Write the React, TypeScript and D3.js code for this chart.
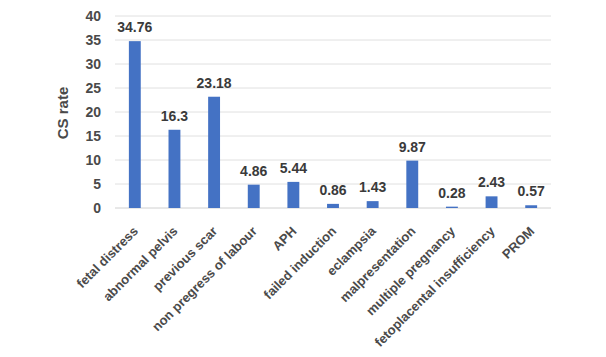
import React, { useEffect, useRef } from "react";
import * as d3 from "d3";

const categories = [
  "fetal distress",
  "abnormal pelvis",
  "previous scar",
  "non pregress of labour",
  "APH",
  "failed induction",
  "eclampsia",
  "malpresentation",
  "multiple pregnancy",
  "fetoplacental insufficiency",
  "PROM",
];
const csRates = [34.76, 16.3, 23.18, 4.86, 5.44, 0.86, 1.43, 9.87, 0.28, 2.43, 0.57];
const yTicks = [0, 5, 10, 15, 20, 25, 30, 35, 40];

const width = 606;
const height = 357;
const margin = { top: 16, right: 55, bottom: 149, left: 115 };

const App = () => {
  const ref = useRef<SVGSVGElement>(null);

  useEffect(() => {
    const svg = d3.select(ref.current);
    svg.selectAll("*").remove();
    const font = "'Liberation Sans', Arial, sans-serif";

    const x = d3
      .scaleBand()
      .domain(categories)
      .range([margin.left, width - margin.right])
      .paddingInner(0.7)
      .paddingOuter(0.35);
    const y = d3.scaleLinear().domain([0, 40]).range([height - margin.bottom, margin.top]);

    // gridlines
    svg
      .append("g")
      .selectAll("line")
      .data(yTicks)
      .enter()
      .append("line")
      .attr("x1", margin.left)
      .attr("x2", width - margin.right)
      .attr("y1", (d) => y(d))
      .attr("y2", (d) => y(d))
      .attr("stroke", (d) => (d === 0 ? "#d0d0d0" : "#e0e0e0"))
      .attr("stroke-width", 1);

    // y tick labels
    svg
      .append("g")
      .selectAll("text")
      .data(yTicks)
      .enter()
      .append("text")
      .attr("x", margin.left - 14)
      .attr("y", (d) => y(d))
      .attr("dy", "0.35em")
      .attr("text-anchor", "end")
      .style("font-family", font)
      .style("font-weight", "bold")
      .style("font-size", "14px")
      .attr("fill", "#4a4a4a")
      .text((d) => d);

    // y axis title
    svg
      .append("text")
      .attr("transform", `translate(68, ${(y(0) + y(40)) / 2 + 1}) rotate(-90)`)
      .attr("text-anchor", "middle")
      .style("font-family", font)
      .style("font-weight", "bold")
      .style("font-size", "15px")
      .attr("fill", "#4a4a4a")
      .text("CS rate");

    // bars
    svg
      .append("g")
      .selectAll("rect")
      .data(csRates)
      .enter()
      .append("rect")
      .attr("x", (d, i) => x(categories[i])!)
      .attr("y", (d) => y(d))
      .attr("width", x.bandwidth())
      .attr("height", (d) => y(0) - y(d))
      .attr("fill", "#4472C4");

    // value labels
    svg
      .append("g")
      .selectAll("text")
      .data(csRates)
      .enter()
      .append("text")
      .attr("x", (d, i) => x(categories[i])! + x.bandwidth() / 2)
      .attr("y", (d) => y(d) - 9)
      .attr("text-anchor", "middle")
      .style("font-family", font)
      .style("font-weight", "bold")
      .style("font-size", "14px")
      .attr("fill", "#3a3a3a")
      .text((d) => d);

    // category labels
    svg
      .append("g")
      .selectAll("text")
      .data(categories)
      .enter()
      .append("text")
      .attr(
        "transform",
        (d) => `translate(${x(d)! + x.bandwidth() / 2 + 4}, ${y(0) + 24}) rotate(-45)`
      )
      .attr("text-anchor", "end")
      .style("font-family", font)
      .style("font-weight", "bold")
      .style("font-size", "13px")
      .attr("fill", "#4a4a4a")
      .text((d) => d);
  }, []);

  return <svg ref={ref} width={width} height={height} style={{ display: "block", margin: "-8px" }}></svg>;
};

export default App;
